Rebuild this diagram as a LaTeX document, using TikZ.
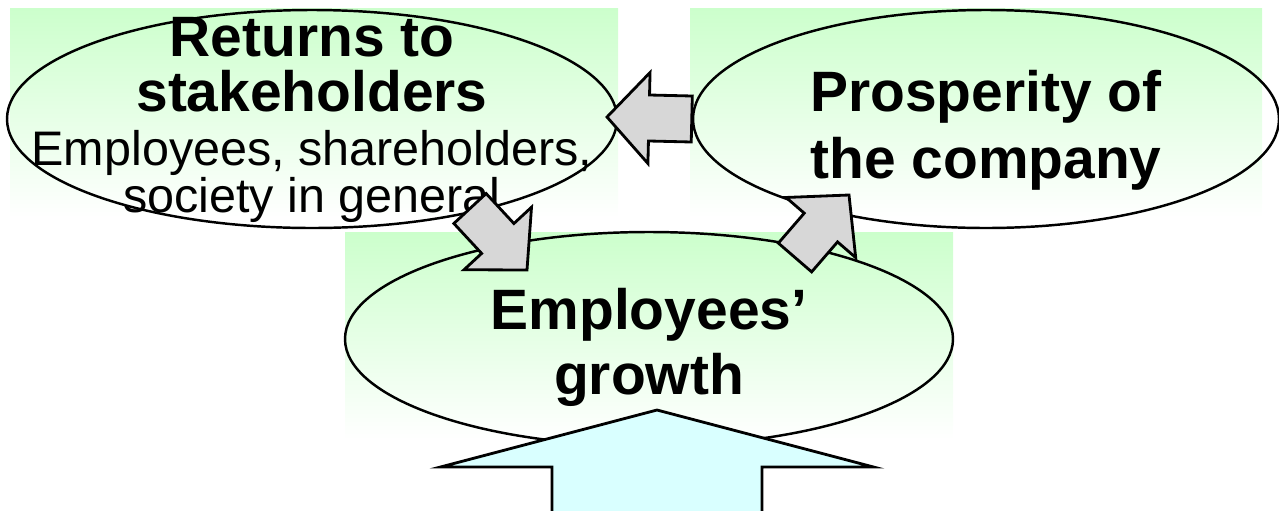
\documentclass[tikz,border=0pt]{standalone}
\usepackage{fontspec}
\setmainfont{Liberation Sans}
\usetikzlibrary{shapes.geometric,calc}

\definecolor{leafgreen}{RGB}{204,255,204}
\definecolor{skycyan}{RGB}{217,255,255}
\definecolor{stepgray}{RGB}{215,215,215}

% fonts for the bubbles
\newcommand{\bubblehead}{\fontsize{16.2}{15.2}\selectfont\bfseries}
\newcommand{\bubblenote}{\fontsize{13.8}{12}\selectfont\mdseries}

% block arrow from a tail point to a tip point:
% [style]{tail}{tip}{half shaft}{half head}{head length}
\newcommand{\blockarrow}[6][grayflow]{%
  \coordinate (#3-base) at ($(#3)!#6!(#2)$);
  \draw[#1] ($(#2)!#4!90:(#3)$) -- ($(#3-base)!#4!90:(#3)$)
    -- ($(#3-base)!#5!90:(#3)$) -- (#3)
    -- ($(#3-base)!#5!-90:(#3)$) -- ($(#3-base)!#4!-90:(#3)$)
    -- ($(#2)!#4!-90:(#3)$) -- cycle;
}

\begin{document}
\begin{tikzpicture}[
    bubble/.style={
        ellipse,
        draw,
        line width=0.7pt,
        inner sep=0pt
    },
    caption/.style={
        align=center,
        inner sep=0pt,
        font=\bubblehead
    },
    backdrop/.style={top color=leafgreen, bottom color=white},
    grayflow/.style={draw, line width=0.8pt, line join=miter, fill=stepgray},
    bigflow/.style={draw, line width=0.8pt, line join=miter, fill=skycyan}
]

\useasboundingbox (0,0) rectangle (12.79,5.10);
\clip (0,0) rectangle (12.79,5.10);

% green backdrops
\shade[backdrop] (0.10,2.92) rectangle (6.18,5.02);
\shade[backdrop] (6.90,2.92) rectangle (12.62,5.02);
\shade[backdrop] (3.45,0.70) rectangle (9.53,2.78);

% the three bubbles
\node[bubble, minimum width=6.10cm, minimum height=2.18cm] (returns) at (3.12,3.91) {};
\node[bubble, minimum width=5.86cm, minimum height=2.18cm] (prosperity) at (9.86,3.91) {};
\node[bubble, minimum width=6.08cm, minimum height=2.14cm] (growth) at (6.49,1.71) {};

\node[caption] (returns-text) at ([yshift=-0.01cm]returns.center)
    {Returns to\\[0.3pt]stakeholders\\[0.3pt]
     \bubblenote Employees, shareholders,\\[-2.0pt]
     \bubblenote society in general};
\node[caption] (prosperity-text) at ([yshift=-0.11cm]prosperity.center)
    {Prosperity of\\[3.8pt]the company};
\node[caption] (growth-text) at ([yshift=-0.08cm]growth.center)
    {Employees'\\[3.3pt]growth};

% arrow ends
\coordinate (pay-tail) at (prosperity.west);
\coordinate (pay-tip) at (6.07,3.93);
\coordinate (share-tail) at (4.70,3.015);
\coordinate (share-tip) at (5.27,2.40);
\coordinate (grow-tail) at (7.95,2.525);
\coordinate (grow-tip) at (8.49,3.15);
\coordinate (base-tail) at (6.57,-0.30);
\coordinate (base-tip) at (6.57,1.00);

\blockarrow{pay-tail}{pay-tip}{0.23cm}{0.455cm}{0.42cm}
\blockarrow{share-tail}{share-tip}{0.22cm}{0.46cm}{0.43cm}
\blockarrow{grow-tail}{grow-tip}{0.22cm}{0.46cm}{0.43cm}
\blockarrow[bigflow]{base-tail}{base-tip}{1.05cm}{2.165cm}{0.57cm}

\end{tikzpicture}
\end{document}
